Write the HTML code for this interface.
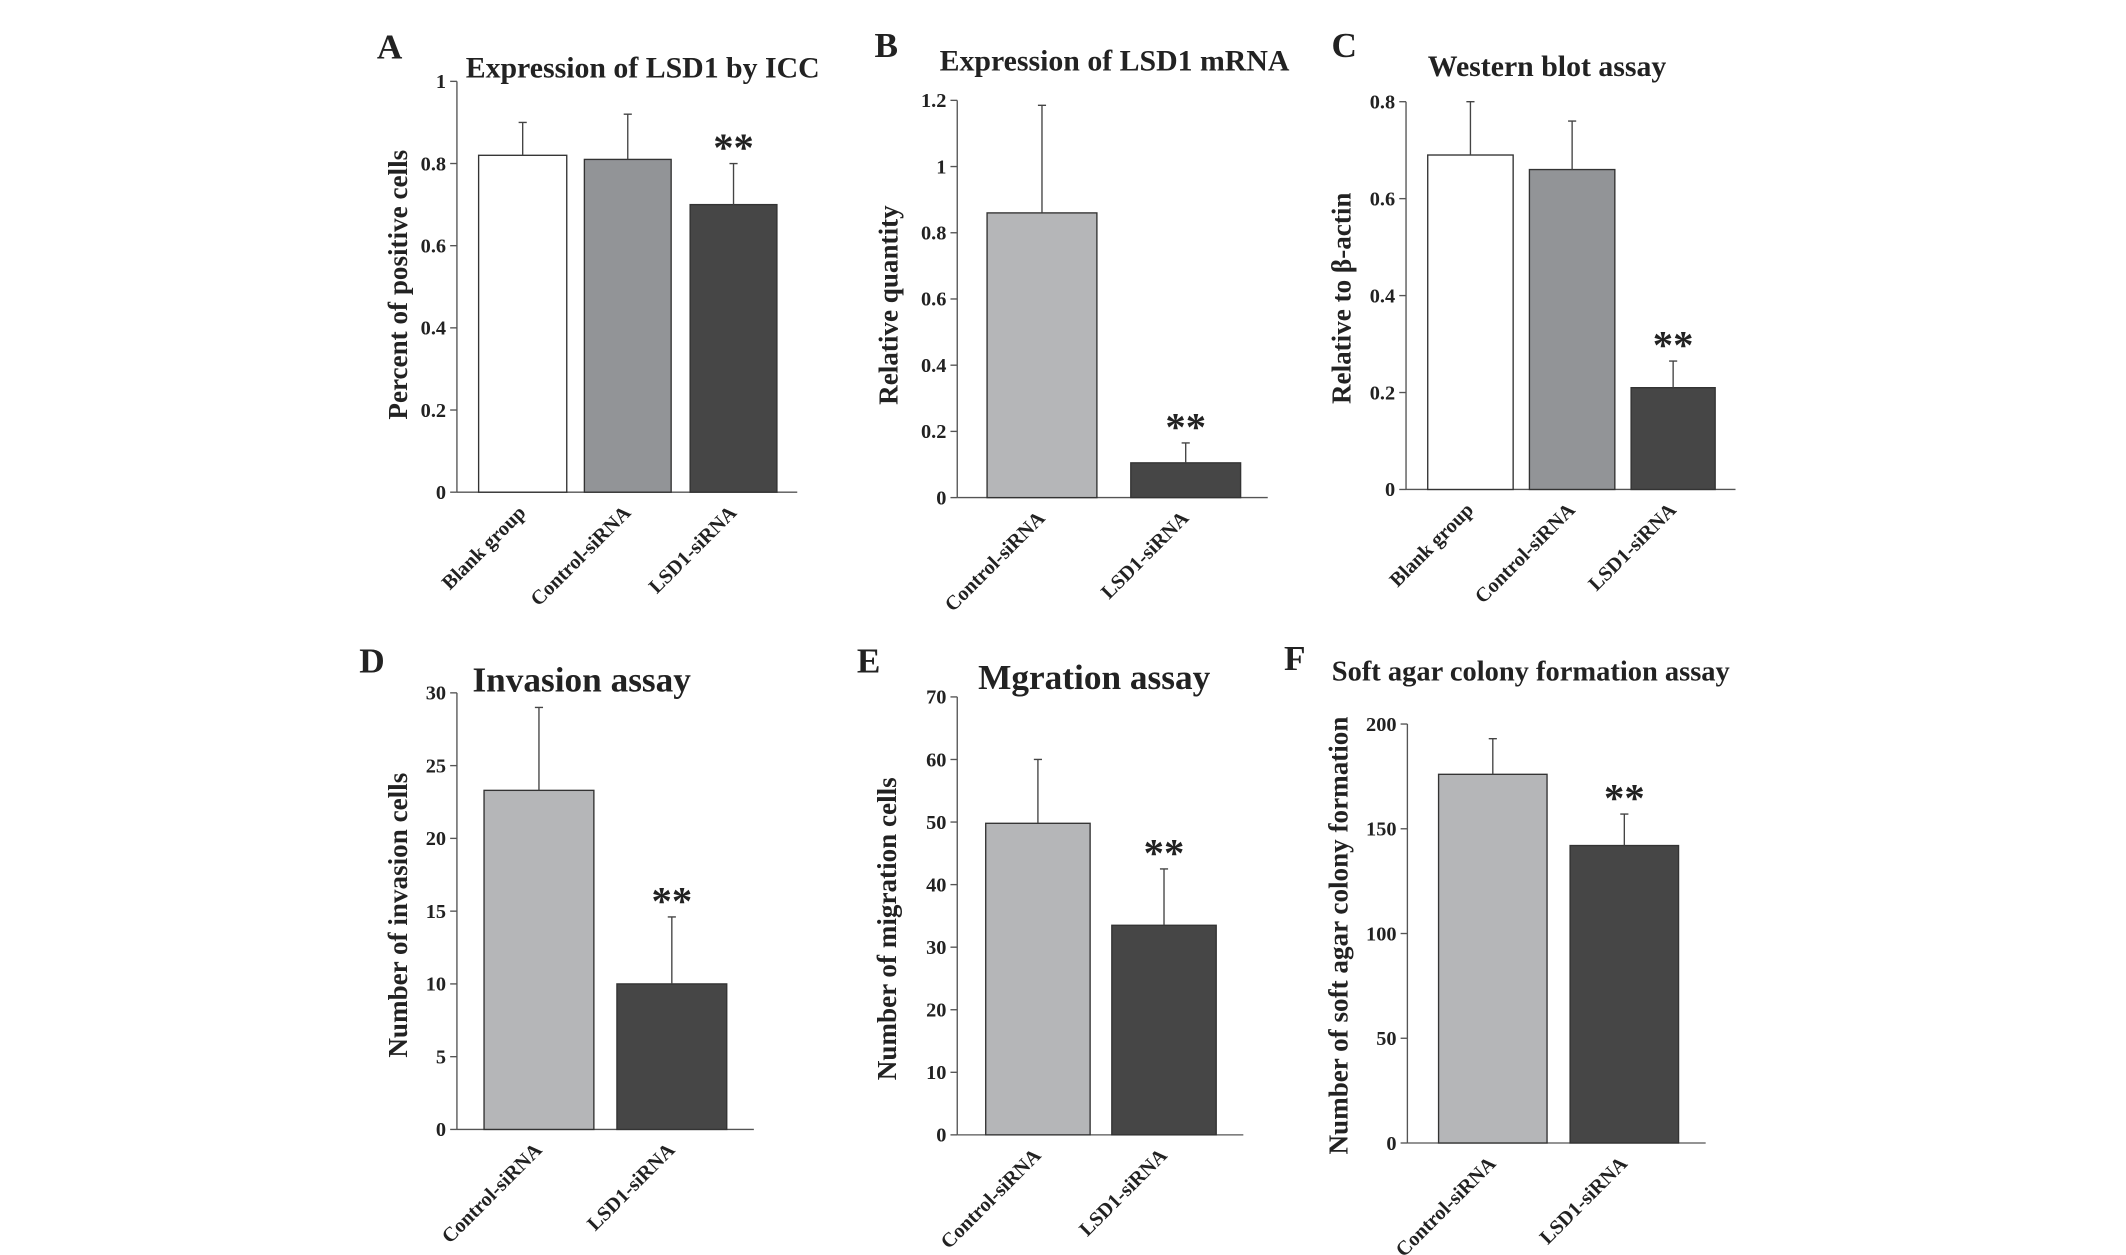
<!DOCTYPE html>
<html><head><meta charset="utf-8"><style>
html,body{margin:0;padding:0;background:#fff;}
svg{display:block;font-family:"Liberation Serif",serif;font-weight:bold;}
</style></head><body>
<svg id="fig" width="2126" height="1255" viewBox="0 0 1568 925.6" xmlns="http://www.w3.org/2000/svg"></svg>
<script>
// Panel A data
const aCats = ["Blank group","Control-siRNA","LSD1-siRNA"];
const aVals = [0.82,0.81,0.70];
const aErrs = [0.90,0.92,0.80];
const aTicks = ["0","0.2","0.4","0.6","0.8","1"];
const aTickVals = [0,0.2,0.4,0.6,0.8,1];
// Panel B data
const bCats = ["Control-siRNA","LSD1-siRNA"];
const bVals = [0.86,0.105];
const bErrs = [1.185,0.165];
const bTicks = ["0","0.2","0.4","0.6","0.8","1","1.2"];
const bTickVals = [0,0.2,0.4,0.6,0.8,1,1.2];
// Panel C data
const cCats = ["Blank group","Control-siRNA","LSD1-siRNA"];
const cVals = [0.69,0.66,0.21];
const cErrs = [0.80,0.76,0.265];
const cTicks = ["0","0.2","0.4","0.6","0.8"];
const cTickVals = [0,0.2,0.4,0.6,0.8];
// Panel D data
const dCats = ["Control-siRNA","LSD1-siRNA"];
const dVals = [23.3,10];
const dErrs = [29,14.6];
const dTicks = ["0","5","10","15","20","25","30"];
const dTickVals = [0,5,10,15,20,25,30];
// Panel E data
const eCats = ["Control-siRNA","LSD1-siRNA"];
const eVals = [49.8,33.5];
const eErrs = [60,42.5];
const eTicks = ["0","10","20","30","40","50","60","70"];
const eTickVals = [0,10,20,30,40,50,60,70];
// Panel F data
const fCats = ["Control-siRNA","LSD1-siRNA"];
const fVals = [176,142];
const fErrs = [193,157];
const fTicks = ["0","50","100","150","200"];
const fTickVals = [0,50,100,150,200];

const NS="http://www.w3.org/2000/svg";
const svg=document.getElementById('fig');
function mk(tag,attrs,parent,text){
  const e=document.createElementNS(NS,tag);
  for(const k in attrs)e.setAttribute(k,attrs[k]);
  if(text!==undefined)e.textContent=text;
  (parent||svg).appendChild(e);return e;
}
function panel(cfg){
  const g=mk('g',{});
  
  
  const max=cfg.tickVals[cfg.tickVals.length-1];
  const y=v=>cfg.y0-(v/max)*(cfg.y0-cfg.yTop);
  const ya=mk('line',{x1:cfg.ax,y1:cfg.yTop,x2:cfg.ax,y2:cfg.y0,stroke:'#555','stroke-width':1},g);
  
  
  const xa=mk('line',{x1:cfg.ax,y1:cfg.y0,x2:cfg.axEnd,y2:cfg.y0,stroke:'#555','stroke-width':1},g);
  
  
  cfg.tickVals.forEach((v,i)=>{
    mk('line',{x1:cfg.ax-5,y1:y(v),x2:cfg.ax,y2:y(v),stroke:'#555'},g);
    const t=mk('text',{x:cfg.ax-8,y:y(v)+5,'text-anchor':'end','font-size':15,fill:'#222'},g,cfg.ticks[i]);
    
    
  });
  cfg.cats.forEach((c,i)=>{
    const [x1,x2]=cfg.bars[i];
    const r=mk('rect',{x:x1,y:y(cfg.vals[i]),width:x2-x1,height:cfg.y0-y(cfg.vals[i]),fill:cfg.colors[i],stroke:'#333','stroke-width':1},g);
    
    
    const cx=(x1+x2)/2;
    const eb=mk('path',{d:`M${cx},${y(cfg.vals[i])}V${y(cfg.errs[i])}M${cx-3},${y(cfg.errs[i])}H${cx+3}`,stroke:'#444',fill:'none'},g);
    
    
    if(c==='LSD1-siRNA'){
      const s=mk('text',{x:cx,y:y(cfg.errs[i])-2,'text-anchor':'middle','font-size':30,fill:'#222'},g,'**');
      
      
    }
    const lb=mk('text',{x:0,y:0,'text-anchor':'end','font-size':15,fill:'#222',transform:`translate(${cx+3},${cfg.y0+16}) rotate(-45)`},g,c);
    
    
  });
  const t=mk('text',{x:cfg.tx,y:cfg.ty,'text-anchor':'middle','font-size':cfg.tfs,fill:'#222'},g,cfg.title);
  
  
  const L=mk('text',{x:cfg.lx,y:cfg.ly,'font-size':26,fill:'#222'},g,cfg.id);
  
  
  const yt=mk('text',{x:0,y:0,'text-anchor':'middle','font-size':cfg.yfs||20,fill:'#222',transform:`translate(${cfg.ytx},${cfg.yty}) rotate(-90)`},g,cfg.ytitle);
  
  
}
const W='#ffffff',G='#929497',L='#b5b6b8',D='#464646';
panel({id:'A',cats:aCats,vals:aVals,errs:aErrs,ticks:aTicks,tickVals:aTickVals,ax:337,axEnd:588,y0:363,yTop:60,
  bars:[[353,418],[431,495],[509,573]],colors:[W,G,D],title:'Expression of LSD1 by ICC',tx:474,ty:57,tfs:22,lx:278,ly:43,ytitle:'Percent of positive cells',ytx:300,yty:210});
panel({id:'B',cats:bCats,vals:bVals,errs:bErrs,ticks:bTicks,tickVals:bTickVals,ax:706,axEnd:935,y0:367,yTop:74,
  bars:[[728,809],[834,915]],colors:[L,D],title:'Expression of LSD1 mRNA',tx:822,ty:52,tfs:22,lx:645,ly:42,ytitle:'Relative quantity',ytx:662,yty:225});
panel({id:'C',cats:cCats,vals:cVals,errs:cErrs,ticks:cTicks,tickVals:cTickVals,ax:1037,axEnd:1280,y0:361,yTop:75,
  bars:[[1053,1116],[1128,1191],[1203,1265]],colors:[W,G,D],title:'Western blot assay',tx:1141,ty:56,tfs:22,lx:982,ly:42,ytitle:'Relative to β-actin',ytx:996,yty:220});
panel({id:'D',cats:dCats,vals:dVals,errs:dErrs,ticks:dTicks,tickVals:dTickVals,ax:337,axEnd:556,y0:833,yTop:511,
  bars:[[357,438],[455,536]],colors:[L,D],title:'Invasion assay',tx:429,ty:510,tfs:26,lx:265,ly:496,ytitle:'Number of invasion cells',ytx:300,yty:675});
panel({id:'E',cats:eCats,vals:eVals,errs:eErrs,ticks:eTicks,tickVals:eTickVals,ax:706,axEnd:917,y0:837,yTop:514,
  bars:[[727,804],[820,897]],colors:[L,D],title:'Mgration assay',tx:807,ty:508,tfs:26,lx:632,ly:496,ytitle:'Number of migration cells',ytx:661,yty:685});
panel({id:'F',cats:fCats,vals:fVals,errs:fErrs,ticks:fTicks,tickVals:fTickVals,ax:1038,axEnd:1258,y0:843,yTop:534,
  bars:[[1061,1141],[1158,1238]],colors:[L,D],title:'Soft agar colony formation assay',tx:1129,ty:502,tfs:21,lx:947,ly:494,ytitle:'Number of soft agar colony formation',ytx:994,yty:690});
</script>
</body></html>
